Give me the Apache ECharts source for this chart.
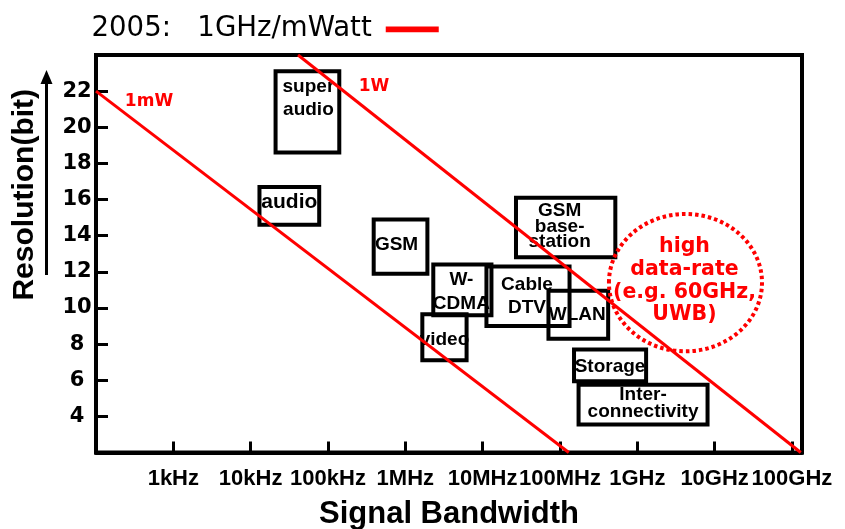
<!DOCTYPE html>
<html><head><meta charset="utf-8">
<script src="https://cdn.jsdelivr.net/npm/echarts@6/dist/echarts.min.js"></script>
<style>html,body{margin:0;padding:0;background:#fff}#c{width:845px;height:529px}</style>
</head><body><div id="c"></div>
<script>
// ---- data ----
const legendName = '2005:   1GHz/mWatt';
const bwTickExponents = [3, 4, 5, 6, 7, 8, 9, 10, 11];
const bwTickLabels = ['1kHz', '10kHz', '100kHz', '1MHz', '10MHz', '100MHz', '1GHz', '10GHz', '100GHz'];
const resolutionTicks = [4, 6, 8, 10, 12, 14, 16, 18, 20, 22];

const boxNames = ['super\naudio', 'audio', 'GSM', 'W-\nCDMA', 'video', 'Cable\nDTV', 'WLAN', 'GSM\nbase-\nstation', 'Storage', 'Inter-\nconnectivity'];
const boxBwLow  = [2.1e4, 1.3e4, 3.9e5, 2.3e6, 1.66e6, 1.12e7, 7.1e7, 2.7e7, 1.52e8, 1.74e8];   // Hz
const boxBwHigh = [1.4e5, 7.7e4, 1.93e6, 1.3e7, 6.2e6, 1.33e8, 4.2e8, 5.2e8, 1.3e9, 8.1e9];     // Hz
const boxBitsLow  = [18.6, 14.6, 11.9, 9.6, 7.1, 9.0, 8.3, 12.8, 5.95, 3.55];
const boxBitsHigh = [23.1, 16.7, 14.9, 12.4, 9.65, 12.3, 10.95, 16.1, 7.7, 5.75];

const line1mW = [[100, 22], [1.3e8, 2]];      // [Hz, bits]
const line1W  = [[4.1e4, 24], [1.3e11, 2]];

const highRateText = 'high\ndata-rate\n(e.g. 60GHz,\nUWB)';
const highRateBw = [4.3e8, 4.1e10];
const highRateBits = [7.6, 15.2];

// ---- styles (per box label placement) ----
const boxLabelStyle = [
  {dx: 1, dy: -13.5, lh: 22.7, fs: 19}, {dx: 0, dy: -4, lh: 23, fs: 21}, {dx: -4, dy: -2, lh: 23, fs: 19},
  {dx: -1, dy: 2, lh: 23.3, fs: 19}, {dx: 0, dy: 2.5, lh: 23, fs: 19}, {dx: -1, dy: 0, lh: 23.3, fs: 19},
  {dx: -1, dy: 0, lh: 23, fs: 19}, {dx: -6, dy: -1, lh: 15.7, fs: 19}, {dx: 0, dy: 1, lh: 23, fs: 19},
  {dx: 0, dy: -1.5, lh: 16.5, fs: 19}
];

const RED = '#ff0000';
const chart = echarts.init(document.getElementById('c'));

function powerLine(pts, text, offset) {
  return {
    type: 'line', name: legendName, animation: false, silent: true, z: 4,
    symbol: 'circle', symbolSize: 0.1, showSymbol: true,
    lineStyle: {color: RED, width: 3}, itemStyle: {color: RED},
    data: pts.map((p, j) => ({
      value: [Math.log10(p[0]), p[1]],
      label: j === 0 ? {
        show: true, formatter: text, position: 'inside', offset: offset,
        color: RED, fontFamily: 'DejaVu Sans', fontWeight: 'bold', fontSize: 17
      } : {show: false}
    }))
  };
}

const boxData = boxNames.map((n, i) => [Math.log10(boxBwLow[i]), Math.log10(boxBwHigh[i]), boxBitsLow[i], boxBitsHigh[i], i]);

chart.setOption({
  animation: false,
  backgroundColor: '#fff',
  grid: {left: 96, right: 43, top: 55, bottom: 76.5, show: true, borderColor: '#000', borderWidth: 4, outerBoundsMode: 'none', containLabel: false},
  legend: {
    data: [legendName], left: 91.5, top: 15.3, padding: 0, align: 'right', icon: 'rect',
    itemWidth: 53, itemHeight: 5.7, selectedMode: false,
    textStyle: {fontFamily: 'DejaVu Sans', fontSize: 27.6, color: '#000', padding: [0, 9, 0, 0]}
  },
  xAxis: {
    type: 'value', min: 2, max: 11.13, interval: 1,
    name: 'Signal Bandwidth', nameLocation: 'middle', nameGap: 46,
    nameTextStyle: {fontFamily: 'Liberation Sans', fontWeight: 'bold', fontSize: 31, color: '#000'},
    axisLine: {show: true, lineStyle: {color: '#000', width: 4}},
    axisTick: {show: true, inside: true, length: 11, lineStyle: {color: '#000', width: 3}},
    splitLine: {show: false},
    axisLabel: {
      margin: 15, color: '#000', fontFamily: 'Liberation Sans', fontWeight: 'bold', fontSize: 22,
      showMinLabel: true, showMaxLabel: true,
      formatter: v => {
        const r = Math.round(v);
        if (Math.abs(v - r) > 1e-6) return '';
        const i = bwTickExponents.indexOf(r);
        return i < 0 ? '' : bwTickLabels[i];
      }
    }
  },
  yAxis: {
    type: 'value', min: 2, max: 24, interval: 2,
    name: 'Resolution(bit)', nameLocation: 'middle', nameGap: 56, nameRotate: 90,
    nameTextStyle: {fontFamily: 'Liberation Sans', fontWeight: 'bold', fontSize: 30, color: '#000', padding: [0, 0, 0, 118]},
    axisLine: {show: true, lineStyle: {color: '#000', width: 4}},
    axisTick: {show: true, inside: true, length: 12, lineStyle: {color: '#000', width: 3}},
    splitLine: {show: false},
    axisLabel: {
      margin: 19, align: 'center', color: '#000', fontFamily: 'DejaVu Sans', fontWeight: 'bold', fontSize: 21,
      padding: [7, 0, 0, 0],
      formatter: v => resolutionTicks.indexOf(Math.round(v)) >= 0 && Math.abs(v - Math.round(v)) < 1e-6 ? String(Math.round(v)) : ''
    }
  },
  graphic: [
    {type: 'line', shape: {x1: 46.5, y1: 275, x2: 46.5, y2: 82}, style: {stroke: '#000', lineWidth: 3}},
    {type: 'polygon', shape: {points: [[46.5, 70], [40.5, 84], [52.5, 84]]}, style: {fill: '#000'}}
  ],
  series: [
    {
      type: 'custom', name: 'boxes', coordinateSystem: 'cartesian2d', z: 3, silent: true,
      encode: {x: [0, 1], y: [2, 3]}, data: boxData,
      renderItem: (params, api) => {
        const i = api.value(4);
        const a = api.coord([api.value(0), api.value(3)]);
        const b = api.coord([api.value(1), api.value(2)]);
        const st = boxLabelStyle[i];
        return {
          type: 'group', children: [
            {type: 'rect', shape: {x: a[0], y: a[1], width: b[0] - a[0], height: b[1] - a[1]},
             style: {fill: 'none', stroke: '#000', lineWidth: 4}},
            {type: 'text', x: (a[0] + b[0]) / 2 + st.dx, y: (a[1] + b[1]) / 2 + st.dy,
             style: {text: boxNames[i], fill: '#000', fontFamily: 'Liberation Sans', fontWeight: 'bold', fontSize: st.fs,
                     align: 'center', verticalAlign: 'middle', lineHeight: st.lh}}
          ]
        };
      }
    },
    {
      type: 'custom', name: 'highrate', coordinateSystem: 'cartesian2d', z: 3, silent: true,
      encode: {x: [0, 1], y: [2, 3]},
      data: [[Math.log10(highRateBw[0]), Math.log10(highRateBw[1]), highRateBits[0], highRateBits[1]]],
      renderItem: (params, api) => {
        const a = api.coord([api.value(0), api.value(3)]);
        const b = api.coord([api.value(1), api.value(2)]);
        const cx = (a[0] + b[0]) / 2, cy = (a[1] + b[1]) / 2;
        return {
          type: 'group', children: [
            {type: 'ellipse', shape: {cx: cx, cy: cy, rx: (b[0] - a[0]) / 2, ry: (b[1] - a[1]) / 2},
             style: {fill: 'none', stroke: RED, lineWidth: 4, lineDash: [3.5, 3]}},
            {type: 'text', x: cx - 1, y: cy - 1.7,
             style: {text: highRateText, fill: RED, fontFamily: 'DejaVu Sans', fontWeight: 'bold', fontSize: 20.5,
                     align: 'center', verticalAlign: 'middle', lineHeight: 22.8}}
          ]
        };
      }
    },
    powerLine(line1mW, '1mW', [53, 10.6]),
    powerLine(line1W, '1W', [76, 32])
  ]
});
</script>
</body></html>
